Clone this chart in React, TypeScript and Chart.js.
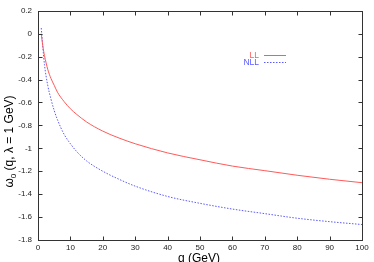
import React, { useEffect, useRef } from "react";
import { Chart, registerables } from "chart.js";

Chart.register(...registerables);

const qValues = [1, 1.5, 2, 3, 4, 5, 6, 8, 10, 12, 15, 20, 25, 30, 40, 50, 60, 70, 80, 90, 100];
const llValues = [0.0, -0.11, -0.19, -0.31, -0.39, -0.45, -0.51, -0.59, -0.655, -0.705, -0.77, -0.85, -0.91, -0.96, -1.04, -1.1, -1.155, -1.195, -1.235, -1.27, -1.3];
const nllValues = [0.05, -0.12, -0.27, -0.45, -0.57, -0.67, -0.75, -0.875, -0.96, -1.03, -1.11, -1.2, -1.27, -1.33, -1.42, -1.48, -1.53, -1.57, -1.61, -1.64, -1.665];
const seriesNames = ["LL", "NLL"];
const seriesColors = ["#ff5a5a", "#5a5aff"];
const xTicks = [0, 10, 20, 30, 40, 50, 60, 70, 80, 90, 100];
const yTicks = [0.2, 0, -0.2, -0.4, -0.6, -0.8, -1, -1.2, -1.4, -1.6, -1.8];
const xTitle = "q (GeV)";
const yTitleMain = "ω";
const yTitleSub = "0";
const yTitleRest = " (q, λ = 1 GeV)";

const FONT = "'Liberation Sans', Arial, sans-serif";

const framePlugin = {
  id: "frame",
  afterDraw(chart: any) {
    const ctx = chart.ctx;
    const a = chart.chartArea;
    const xs = chart.scales.x;
    const ys = chart.scales.y;
    ctx.save();
    ctx.strokeStyle = "#333";
    ctx.lineWidth = 1;
    const L = Math.round(a.left) + 0.5;
    const R = Math.round(a.right) + 0.5;
    const T = Math.round(a.top) + 0.5;
    const B = Math.round(a.bottom) + 0.5;
    ctx.strokeRect(L, T, R - L, B - T);
    const tl = 4;
    ctx.beginPath();
    xTicks.forEach((v) => {
      const px = Math.round(xs.getPixelForValue(v)) + 0.5;
      ctx.moveTo(px, B);
      ctx.lineTo(px, B - tl);
      ctx.moveTo(px, T);
      ctx.lineTo(px, T + tl);
    });
    yTicks.forEach((v) => {
      const py = Math.round(ys.getPixelForValue(v)) + 0.5;
      ctx.moveTo(L, py);
      ctx.lineTo(L + tl, py);
      ctx.moveTo(R, py);
      ctx.lineTo(R - tl, py);
    });
    ctx.stroke();

    // legend
    ctx.font = `8.5px ${FONT}`;
    ctx.textAlign = "right";
    ctx.textBaseline = "middle";
    const rows = [54.7, 62.3];
    seriesNames.forEach((name, i) => {
      const y = rows[i];
      ctx.fillStyle = seriesColors[i];
      ctx.fillText(name, 259, y + 0.5);
      ctx.strokeStyle = seriesColors[i];
      ctx.lineWidth = 1;
      ctx.setLineDash(i === 0 ? [] : [1.5, 1.5]);
      ctx.beginPath();
      ctx.moveTo(264, Math.round(y) + 0.5);
      ctx.lineTo(286, Math.round(y) + 0.5);
      ctx.stroke();
    });
    ctx.setLineDash([]);

    // x title
    ctx.fillStyle = "#000";
    ctx.font = `12px ${FONT}`;
    ctx.textAlign = "center";
    ctx.textBaseline = "alphabetic";
    ctx.fillText(xTitle, 199, 262);

    // y title rotated
    ctx.translate(13, 141.5);
    ctx.rotate(-Math.PI / 2);
    ctx.font = `12px ${FONT}`;
    const w1 = ctx.measureText(yTitleMain).width;
    ctx.font = `8px ${FONT}`;
    const w2 = ctx.measureText(yTitleSub).width;
    ctx.font = `12px ${FONT}`;
    const w3 = ctx.measureText(yTitleRest).width;
    const total = w1 + w2 + w3;
    let x0 = -total / 2;
    ctx.textAlign = "left";
    ctx.fillText(yTitleMain, x0, 0);
    x0 += w1;
    ctx.font = `8px ${FONT}`;
    ctx.fillText(yTitleSub, x0, 3);
    x0 += w2;
    ctx.font = `12px ${FONT}`;
    ctx.fillText(yTitleRest, x0, 0);
    ctx.restore();
  },
};

export default function App() {
  const ref = useRef<HTMLCanvasElement | null>(null);
  useEffect(() => {
    document.body.style.margin = "0";
    const canvas = ref.current!;
    const chart = new Chart(canvas, {
      type: "line",
      data: {
        datasets: [
          {
            label: seriesNames[0],
            data: qValues.map((q, i) => ({ x: q, y: llValues[i] })),
            borderColor: seriesColors[0],
            borderWidth: 1,
            pointRadius: 0,
            cubicInterpolationMode: "monotone",
            fill: false,
          },
          {
            label: seriesNames[1],
            data: qValues.map((q, i) => ({ x: q, y: nllValues[i] })),
            borderColor: seriesColors[1],
            borderWidth: 1,
            borderDash: [1.5, 1.5],
            pointRadius: 0,
            cubicInterpolationMode: "monotone",
            fill: false,
          },
        ],
      },
      options: {
        responsive: false,
        animation: false,
        devicePixelRatio: 1,
        layout: { padding: { top: 9, right: 12, left: 0, bottom: 0 } },
        plugins: { legend: { display: false }, tooltip: { enabled: false } },
        scales: {
          x: {
            type: "linear",
            min: 0,
            max: 100,
            afterFit: (s: any) => {
              s.height = 22;
            },
            afterBuildTicks: (s: any) => {
              s.ticks = xTicks.map((v) => ({ value: v }));
            },
            grid: { display: false, drawTicks: false },
            border: { display: false },
            ticks: {
              padding: 3,
              color: "#222",
              font: { family: FONT, size: 8 },
              maxRotation: 0,
              autoSkip: false,
              callback: (v: any) => String(v),
            },
          },
          y: {
            type: "linear",
            min: -1.8,
            max: 0.2,
            afterFit: (s: any) => {
              s.width = 38;
            },
            afterBuildTicks: (s: any) => {
              s.ticks = yTicks.map((v) => ({ value: v }));
            },
            grid: { display: false, drawTicks: false },
            border: { display: false },
            ticks: {
              padding: 6,
              color: "#222",
              font: { family: FONT, size: 8 },
              autoSkip: false,
              callback: (v: any) => String(Math.round(v * 10) / 10),
            },
          },
        },
      },
      plugins: [framePlugin],
    });
    return () => chart.destroy();
  }, []);
  return (
    <div style={{ width: 374, height: 262 }}>
      <canvas ref={ref} width={374} height={262} style={{ display: "block" }} />
    </div>
  );
}
